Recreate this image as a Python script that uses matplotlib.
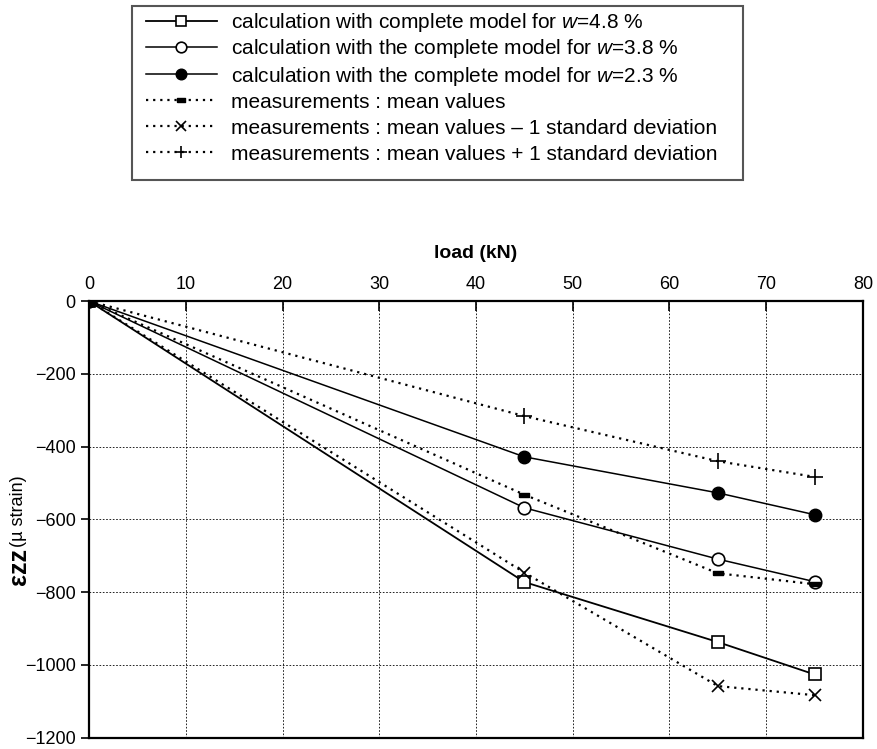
import matplotlib.pyplot as plt
from matplotlib.patches import Rectangle

plt.rcParams['font.family'] = ['Liberation Sans', 'DejaVu Sans']
plt.rcParams['mathtext.fontset'] = 'custom'
plt.rcParams['mathtext.it'] = 'Liberation Sans:italic'
plt.rcParams['mathtext.rm'] = 'Liberation Sans'

# load values (kN)
load = [0, 45, 65, 75]

# strain values (micro strain)
calc_w48 = [0, -772, -937, -1026]
calc_w38 = [0, -568, -709, -771]
calc_w23 = [0, -428, -527, -587]
meas_mean = [0, -532, -748, -778]
meas_minus_sd = [0, -746, -1058, -1083]
meas_plus_sd = [0, -316, -440, -483]

labels = [
    "calculation with complete model for $w$=4.8 %",
    "calculation with the complete model for $w$=3.8 %",
    "calculation with the complete model for $w$=2.3 %",
    "measurements : mean values",
    "measurements : mean values \u2013 1 standard deviation",
    "measurements : mean values + 1 standard deviation",
]

W, H = 877, 749
fig = plt.figure(figsize=(W / 100, H / 100), dpi=100)
ax = fig.add_axes([0.1015, 0.015, 0.8825, 0.583])

dot = (0, (1, 2.2))
bar_marker = [(-2, -1), (2, -1), (2, 1), (-2, 1), (-2, -1)]

l1, = ax.plot(load, calc_w48, color='black', lw=1.3, marker='s', ms=9,
              mfc='white', mec='black', mew=1.2)
l2, = ax.plot(load, calc_w38, color='black', lw=1.1, marker='o', ms=9,
              mfc='white', mec='black', mew=1.2)
l3, = ax.plot(load, calc_w23, color='black', lw=1.1, marker='o', ms=9,
              mfc='black', mec='black')
l4, = ax.plot(load, meas_mean, color='black', lw=1.6, ls=dot,
              marker=bar_marker, ms=7, mfc='black', mec='black')
l5, = ax.plot(load, meas_minus_sd, color='black', lw=1.6, ls=dot,
              marker='x', ms=9, mew=1.2)
l6, = ax.plot(load, meas_plus_sd, color='black', lw=1.6, ls=dot,
              marker='+', ms=11, mew=1.2)

ax.set_xlim(0, 80)
ax.set_ylim(-1200, 0)
ax.set_xticks(range(0, 81, 10))
ax.set_yticks(range(-1200, 1, 200))
ax.xaxis.tick_top()
ax.xaxis.set_label_position('top')
ax.tick_params(axis='x', direction='in', length=7, width=1.2, labelsize=13, pad=6)
ax.tick_params(axis='y', direction='out', length=6, width=1.2, labelsize=13)
ax.set_xlabel("load (kN)", fontsize=14, fontweight='bold', labelpad=13)

for s in ax.spines.values():
    s.set_linewidth(1.6)
ax.grid(True, color='black', lw=0.6, ls=(0, (2, 2)))

# y label made of two parts (bold epsilon part + unit)
ax.text(-0.091, 0.434, "\u03b5zz", rotation=90, ha='center', va='top',
        fontsize=18, fontweight='bold', transform=ax.transAxes)
ax.text(-0.091, 0.437, "(\u00b5 strain)", rotation=90, ha='center', va='bottom',
        fontsize=13, transform=ax.transAxes)

# one legend per row so the rows are evenly spaced, box drawn separately
handles = [l1, l2, l3, l4, l5, l6]
row_px = [23, 49, 76, 102, 128, 154]
for h, lab, yp in zip(handles, labels, row_px):
    fig.legend([h], [lab], loc='center left', bbox_to_anchor=(146 / W, 1 - yp / H),
               fontsize=15, handlelength=3.4, borderpad=0, frameon=False,
               handletextpad=0.7, borderaxespad=0, markerscale=0.85)
box = Rectangle((132 / W, 1 - 180 / H), (743 - 132) / W, (180 - 6) / H,
                transform=fig.transFigure, fill=False, edgecolor='#555555', lw=1.5)
fig.patches.append(box)

fig.savefig("out.png", dpi=100)
